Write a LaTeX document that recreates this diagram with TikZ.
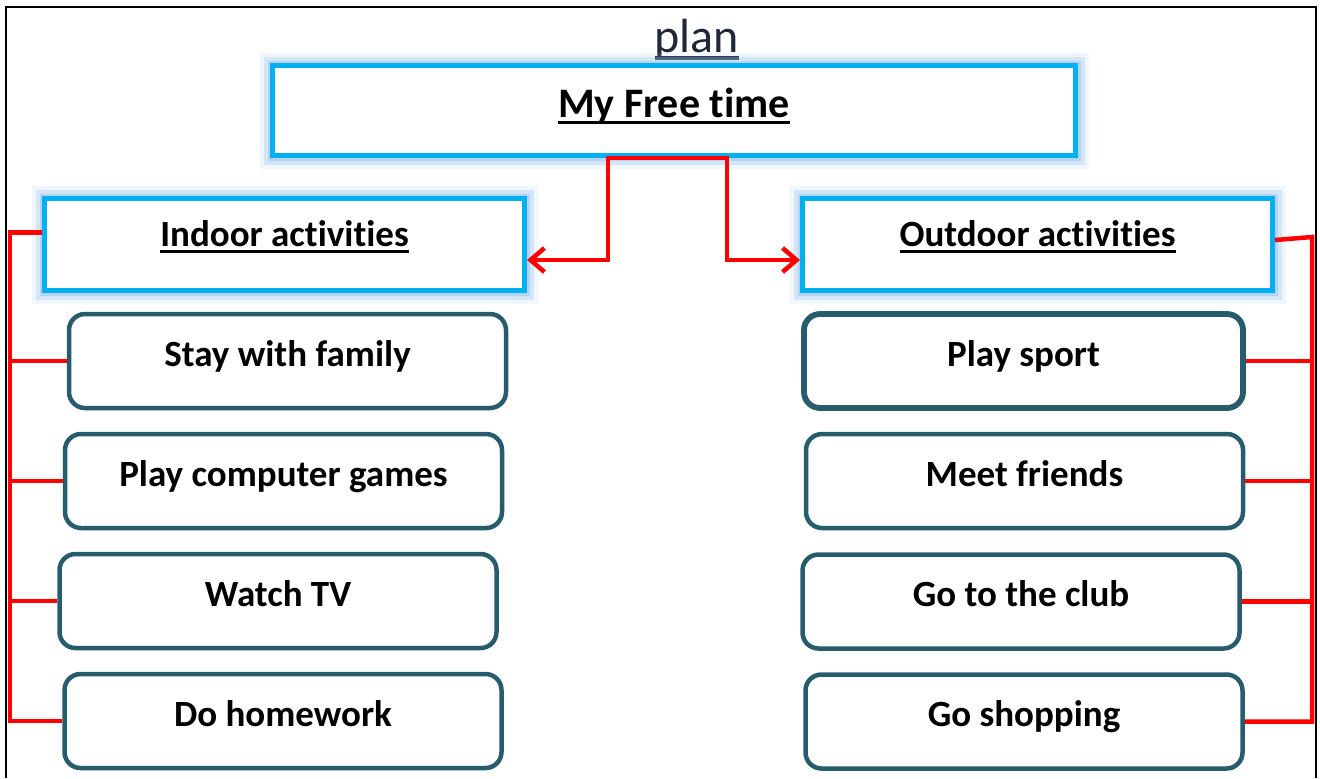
\documentclass[tikz,border=0pt]{standalone}
\usepackage{fontspec}
\setmainfont[Ligatures={NoCommon}]{Carlito}
\usetikzlibrary{arrows.meta}

\definecolor{skyline}{RGB}{0,176,240}
\definecolor{glowblue}{RGB}{150,192,236}
\definecolor{tealline}{RGB}{38,92,108}
\definecolor{plantext}{RGB}{30,40,55}
\newcommand{\ulined}[1]{\setbox0\hbox{#1}\rlap{\rule[-0.17em]{\wd0}{0.08em}}\box0}

\begin{document}
\begin{tikzpicture}[x=0.5pt,y=-0.5pt,>={Straight Barb[length=7pt,width=12pt]},
                    head node/.style={draw=skyline,fill=white,line width=2.5pt,minimum height=46pt,
                      preaction={draw=glowblue,line width=13pt,opacity=0.15,rounded corners=6pt},
                      preaction={draw=glowblue,line width=9pt,opacity=0.3,rounded corners=4pt},
                      preaction={draw=glowblue,line width=5pt,opacity=0.5},
                      font=\fontsize{18.5}{20}\selectfont\bfseries,text height=12pt,text depth=10pt},
                    item node/.style={draw=tealline,fill=white,line width=2.25pt,rounded corners=8pt,
                      minimum width=218.5pt,minimum height=47pt,
                      font=\fontsize{18.5}{20}\selectfont\bfseries,text height=12pt,text depth=7pt},
                    red line/.style={draw=red,line width=2.25pt}]
\useasboundingbox (0,0) rectangle (1320,778);
\draw[line width=1pt] (5.5,778) -- (5.5,7) -- (1316,7) -- (1316,778);

\node[anchor=base,text=plantext,font=\fontsize{24}{26}\selectfont] (title) at (697,52) {\ulined{plan}};
\node[head node,minimum width=401.5pt,minimum height=45pt,font=\fontsize{21}{23}\selectfont\bfseries,
      text height=14pt,text depth=7.5pt] (main) at (674,110.5) {\ulined{My Free time}};
\node[head node,minimum width=240pt] (indoor) at (284.5,244.5) {\ulined{Indoor activities}};
\node[head node,minimum width=235pt] (outdoor) at (1037.5,244.5) {\ulined{Outdoor activities}};

\node[item node] (family) at (287.5,361) {Stay with family};
\node[item node] (games) at (283.5,481) {Play computer games};
\node[item node] (tv) at (278,601) {Watch TV};
\node[item node] (homework) at (283,721) {Do homework};

\node[item node,line width=2.9pt,minimum width=219.5pt] (sport) at (1023.5,361) {Play sport};
\node[item node] (friends) at (1024.5,481) {Meet friends};
\node[item node] (club) at (1021,601.5) {Go to the club};
\node[item node] (shopping) at (1024,721.5) {Go shopping};

% arrows from the top box
\draw[red line,<->] ([yshift=-7.75pt]indoor.east) -| ([xshift=-33pt]main.south)
  -- ([xshift=26.5pt]main.south) |- ([yshift=-7.75pt]outdoor.west);

% left bracket
\coordinate (lbar) at (10,0);
\draw[red line] ([yshift=6pt]indoor.west) -- ([yshift=6pt]indoor.west -| lbar) |- (homework.west);
\foreach \n in {family,games,tv}
  \draw[red line] (\n.west) -- (\n.west -| lbar);

% right bracket
\coordinate (rtop) at (1312,237);
\draw[red line] ([yshift=2.25pt]outdoor.east) -- (rtop) |- (shopping.east);
\foreach \n in {sport,friends,club}
  \draw[red line] (\n.east) -- (\n.east -| rtop);
\end{tikzpicture}
\end{document}
